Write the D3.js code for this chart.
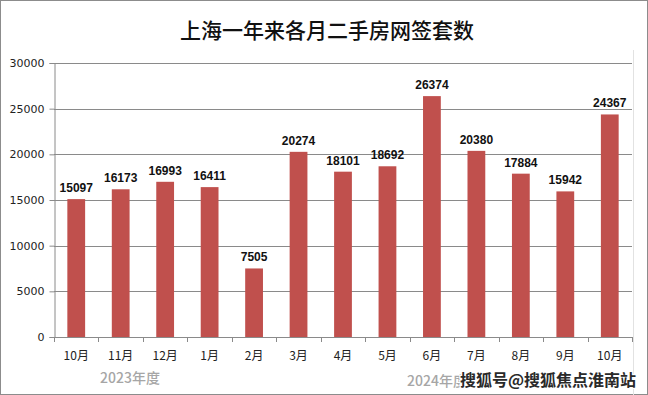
<!DOCTYPE html>
<html>
<head>
<meta charset="utf-8">
<script src="https://cdn.jsdelivr.net/npm/d3@7"></script>
<style>
  body { margin: 0; background: #fff; }
  svg { display: block; }
</style>
</head>
<body>
<div id="chart"></div>
<script>
const months = ["10月", "11月", "12月", "1月", "2月", "3月", "4月", "5月", "6月", "7月", "8月", "9月", "10月"];
const deals = [15097, 16173, 16993, 16411, 7505, 20274, 18101, 18692, 26374, 20380, 17884, 15942, 24367];
const yTicks = [0, 5000, 10000, 15000, 20000, 25000, 30000];
const title = "上海一年来各月二手房网签套数";
const yearLabels = ["2023年度", "2024年度"];
const watermark = "搜狐号@搜狐焦点淮南站";

const width = 648;
const height = 395;
const margin = { top: 63, right: 16, bottom: 58, left: 54 };

const svg = d3.select("#chart")
    .append("svg")
    .attr("width", width)
    .attr("height", height);

// outer frame
svg.append("rect")
    .attr("x", 0.5).attr("y", 0.5)
    .attr("width", width - 1).attr("height", height - 1)
    .attr("fill", "#fff")
    .attr("stroke", "#8c8c8c");

// inner chart frame line on the right
svg.append("line")
    .attr("x1", 633.5).attr("x2", 633.5)
    .attr("y1", 50).attr("y2", 395)
    .attr("stroke", "#e2e2e2");

svg.append("text")
    .attr("x", 327)
    .attr("y", 38)
    .attr("text-anchor", "middle")
    .attr("font-family", "'Noto Sans CJK SC', sans-serif")
    .attr("font-size", 21)
    .attr("font-weight", 500)
    .attr("fill", "#111")
    .text(title);

const x = d3.scaleBand()
    .domain(d3.range(months.length))
    .range([margin.left, width - margin.right])
    .paddingInner(0.6)
    .paddingOuter(0.3);

const y = d3.scaleLinear()
    .domain([0, 30000])
    .range([height - margin.bottom, margin.top]);

// gridlines
svg.append("g")
    .selectAll("line")
    .data(yTicks.slice(1))
    .enter()
    .append("line")
    .attr("x1", margin.left)
    .attr("x2", width - margin.right)
    .attr("y1", d => Math.round(y(d)) + 0.5)
    .attr("y2", d => Math.round(y(d)) + 0.5)
    .attr("stroke", "#8a8a8a")
    .attr("stroke-width", 1);

// y axis
const yAxis = svg.append("g")
    .attr("transform", `translate(${margin.left + 0.5}, 0)`)
    .call(d3.axisLeft(y).tickValues(yTicks).tickSize(5).tickFormat(d3.format("d")));
yAxis.selectAll("path, line").attr("stroke", "#8a8a8a");
yAxis.selectAll("text")
    .attr("font-family", "'DejaVu Sans', sans-serif")
    .attr("font-size", 11)
    .attr("fill", "#222")
    .attr("dx", -2);

// bars
svg.append("g")
    .selectAll("rect")
    .data(deals)
    .enter()
    .append("rect")
    .attr("x", (d, i) => x(i))
    .attr("y", d => y(d))
    .attr("width", x.bandwidth())
    .attr("height", d => y(0) - y(d))
    .attr("fill", "#c0504d");

// value labels
svg.append("g")
    .selectAll("text")
    .data(deals)
    .enter()
    .append("text")
    .attr("x", (d, i) => x(i) + x.bandwidth() / 2)
    .attr("y", d => y(d) - 7)
    .attr("text-anchor", "middle")
    .attr("font-family", "'Liberation Sans', sans-serif")
    .attr("font-size", 12)
    .attr("font-weight", "bold")
    .attr("fill", "#111")
    .text(d => d);

// x axis
const step = x.step();
const x0 = height - margin.bottom;
const xAxis = svg.append("g");
xAxis.append("line")
    .attr("x1", margin.left).attr("x2", width - margin.right)
    .attr("y1", x0 + 0.5).attr("y2", x0 + 0.5)
    .attr("stroke", "#8a8a8a");
xAxis.selectAll(".tick")
    .data(d3.range(months.length + 1))
    .enter()
    .append("line")
    .attr("x1", i => Math.round(margin.left + i * step) + 0.5)
    .attr("x2", i => Math.round(margin.left + i * step) + 0.5)
    .attr("y1", x0)
    .attr("y2", x0 + 5)
    .attr("stroke", "#8a8a8a");
xAxis.selectAll("text")
    .data(months)
    .enter()
    .append("text")
    .attr("x", (d, i) => x(i) + x.bandwidth() / 2)
    .attr("y", x0 + 23)
    .attr("text-anchor", "middle")
    .attr("font-family", "'Noto Sans CJK SC', sans-serif")
    .attr("font-size", 12)
    .attr("fill", "#222")
    .text(d => d);

// year labels
svg.append("text")
    .attr("x", 100)
    .attr("y", 383)
    .attr("font-family", "'Noto Sans CJK SC', sans-serif")
    .attr("font-size", 14)
    .attr("font-weight", 500)
    .attr("fill", "#a6a6a6")
    .text(yearLabels[0]);
svg.append("text")
    .attr("x", 407)
    .attr("y", 386)
    .attr("font-family", "'Noto Sans CJK SC', sans-serif")
    .attr("font-size", 14)
    .attr("font-weight", 500)
    .attr("fill", "#a6a6a6")
    .text(yearLabels[1]);

// watermark
svg.append("text")
    .attr("x", 636)
    .attr("y", 386)
    .attr("text-anchor", "end")
    .attr("font-family", "'Noto Sans CJK SC', sans-serif")
    .attr("font-size", 16)
    .attr("font-weight", "bold")
    .attr("fill", "#2a2a2a")
    .attr("stroke", "#fff")
    .attr("stroke-width", 2.5)
    .attr("paint-order", "stroke")
    .text(watermark);
</script>
</body>
</html>
